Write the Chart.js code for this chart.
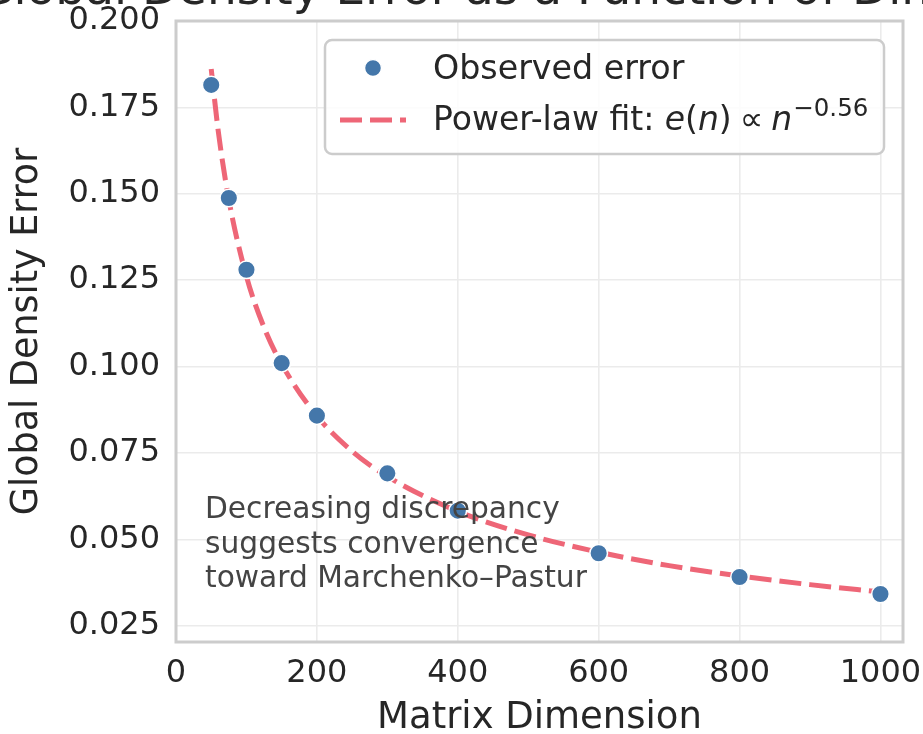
<!DOCTYPE html>
<html>
<head>
<meta charset="utf-8">
<script src="https://cdn.jsdelivr.net/npm/chart.js@4.4.0/dist/chart.umd.min.js"></script>
<style>
  html, body { margin: 0; padding: 0; background: #fff; }
  #wrap { width: 923px; height: 734px; }
</style>
</head>
<body>
<div id="wrap"><canvas id="myChart" width="923" height="734"></canvas></div>
<script>
var dimensions = [50, 75, 100, 150, 200, 300, 400, 600, 800, 1000];
var observedError = [0.1815, 0.1488, 0.1280, 0.1010, 0.0858, 0.0691, 0.0583, 0.0460, 0.0391, 0.0342];
var fitDimensions = [50, 60, 75, 100, 125, 150, 200, 250, 300, 400, 500, 600, 700, 800, 900, 1000];
var fitError = [0.1861, 0.1681, 0.1483, 0.1261, 0.1113, 0.1007, 0.0857, 0.0755, 0.0682, 0.0581, 0.0513, 0.0463, 0.0424, 0.0394, 0.0369, 0.0348];
var xTicks = [0, 200, 400, 600, 800, 1000];
var yTicks = [0.025, 0.050, 0.075, 0.100, 0.125, 0.150, 0.175, 0.200];
var titleText = 'Global Density Error as a Function of Dimension';
var noteLines = ['Decreasing discrepancy', 'suggests convergence', 'toward Marchenko–Pastur'];
var legendLabels = ['Observed error', 'Power-law fit: '];

var FONT = '"DejaVu Sans", sans-serif';
var TEXT = '#262626';
var BLUE = '#4477AA';
var RED = '#EE6677';

// grey frame round the plot area
var framePlugin = {
    id: 'frame',
    beforeDatasetsDraw(chart) {
        let a = chart.chartArea, c = chart.ctx;
        c.save();
        c.strokeStyle = '#cccccc';
        c.lineWidth = 3;
        c.strokeRect(a.left, a.top, a.right - a.left, a.bottom - a.top);
        c.restore();
    }
};

// title sits mostly above the picture, only its lower edge shows
var titlePlugin = {
    id: 'cutTitle',
    afterDraw(chart) {
        let a = chart.chartArea, c = chart.ctx;
        c.save();
        c.font = '47px ' + FONT;
        c.fillStyle = TEXT;
        c.textAlign = 'center';
        c.textBaseline = 'alphabetic';
        c.fillText(titleText, (a.left + a.right) / 2, 4);
        c.restore();
    }
};

var notePlugin = {
    id: 'note',
    afterDatasetsDraw(chart) {
        let c = chart.ctx;
        c.save();
        c.font = '29.7px ' + FONT;
        c.fillStyle = '#444444';
        c.textAlign = 'left';
        c.textBaseline = 'alphabetic';
        noteLines.forEach((line, i) => {
            c.fillText(line, 205, 518 + i * 34.5);
        });
        c.restore();
    }
};

var legendPlugin = {
    id: 'boxLegend',
    afterDraw(chart) {
        let c = chart.ctx;
        let x = 325, y = 40, w = 559, h = 114, r = 7;
        c.save();
        c.beginPath();
        c.roundRect(x, y, w, h, r);
        c.fillStyle = 'rgba(255,255,255,0.85)';
        c.fill();
        c.strokeStyle = '#cccccc';
        c.lineWidth = 2.5;
        c.stroke();

        // marker
        c.beginPath();
        c.arc(373, 68, 8.5, 0, Math.PI * 2);
        c.fillStyle = BLUE;
        c.fill();
        c.strokeStyle = '#ffffff';
        c.lineWidth = 1.5;
        c.stroke();

        // dashed line
        c.beginPath();
        c.setLineDash([22, 8]);
        c.moveTo(340, 120);
        c.lineTo(406, 120);
        c.strokeStyle = RED;
        c.lineWidth = 5;
        c.stroke();
        c.setLineDash([]);

        c.fillStyle = TEXT;
        c.textAlign = 'left';
        c.textBaseline = 'alphabetic';
        c.font = '33.3px ' + FONT;
        c.fillText(legendLabels[0], 433, 79);

        let bx = 433, by = 130;
        let parts = [
            [legendLabels[1], '33px ' + FONT, 0, 0],
            ['e', 'italic 33px ' + FONT, 0, 0],
            ['(', '33px ' + FONT, 0, 0],
            ['n', 'italic 33px ' + FONT, 0, 0],
            [')', '33px ' + FONT, 0, 8],
            ['∝', '33px ' + FONT, 0, 8],
            ['n', 'italic 33px ' + FONT, 0, 1],
            ['−0.56', '24.5px ' + FONT, -14, 0]
        ];
        parts.forEach(p => {
            c.font = p[1];
            c.fillText(p[0], bx, by + p[2]);
            bx += c.measureText(p[0]).width + p[3];
        });
        c.restore();
    }
};

var ctx = document.getElementById('myChart').getContext('2d');

window.myChart = new Chart(ctx, {
    type: 'scatter',
    data: {
        datasets: [{
            label: 'Observed error',
            data: dimensions.map((d, i) => ({ x: d, y: observedError[i] })),
            backgroundColor: BLUE,
            borderColor: '#ffffff',
            borderWidth: 1.5,
            pointRadius: 8.8,
            pointHoverRadius: 8.8,
            showLine: false
        }, {
            label: 'Power-law fit',
            type: 'line',
            data: fitDimensions.map((d, i) => ({ x: d, y: fitError[i] })),
            borderColor: RED,
            borderWidth: 5,
            borderDash: [22, 8],
            pointRadius: 0,
            fill: false,
            cubicInterpolationMode: 'monotone'
        }]
    },
    options: {
        responsive: false,
        animation: false,
        devicePixelRatio: 1,
        layout: { padding: { top: 21, right: 20, left: 0, bottom: 0 } },
        scales: {
            x: {
                type: 'linear',
                min: 0,
                max: 1032,
                afterBuildTicks: (axis) => { axis.ticks = xTicks.map(v => ({ value: v })); },
                afterFit: (axis) => {
                    axis.height = 92;
                    axis.paddingLeft = 0;
                    axis.paddingRight = 0;
                },
                grid: { color: '#ebebeb', lineWidth: 1.6, drawTicks: false },
                border: { display: false },
                ticks: {
                    padding: 12,
                    color: TEXT,
                    maxRotation: 0,
                    font: { family: FONT, size: 32 },
                    callback: (v) => String(v)
                },
                title: {
                    display: true,
                    text: 'Matrix Dimension',
                    color: TEXT,
                    padding: 0,
                    font: { family: FONT, size: 37, lineHeight: 0.82 }
                }
            },
            y: {
                type: 'linear',
                min: 0.0203,
                max: 0.2,
                afterBuildTicks: (axis) => { axis.ticks = yTicks.map(v => ({ value: v })); },
                afterFit: (axis) => {
                    axis.width = 176;
                    axis.paddingTop = 0;
                    axis.paddingBottom = 0;
                },
                grid: { color: '#ebebeb', lineWidth: 1.6, drawTicks: false },
                border: { display: false },
                ticks: {
                    padding: 16,
                    color: TEXT,
                    font: { family: FONT, size: 32 },
                    callback: (v) => v.toFixed(3)
                },
                title: {
                    display: true,
                    text: 'Global Density Error',
                    color: TEXT,
                    padding: { top: 6, bottom: 0 },
                    font: { family: FONT, size: 36.5, lineHeight: 1.2 }
                }
            }
        },
        plugins: {
            legend: { display: false },
            tooltip: { enabled: false }
        }
    },
    plugins: [framePlugin, notePlugin, legendPlugin, titlePlugin]
});
</script>
</body>
</html>
